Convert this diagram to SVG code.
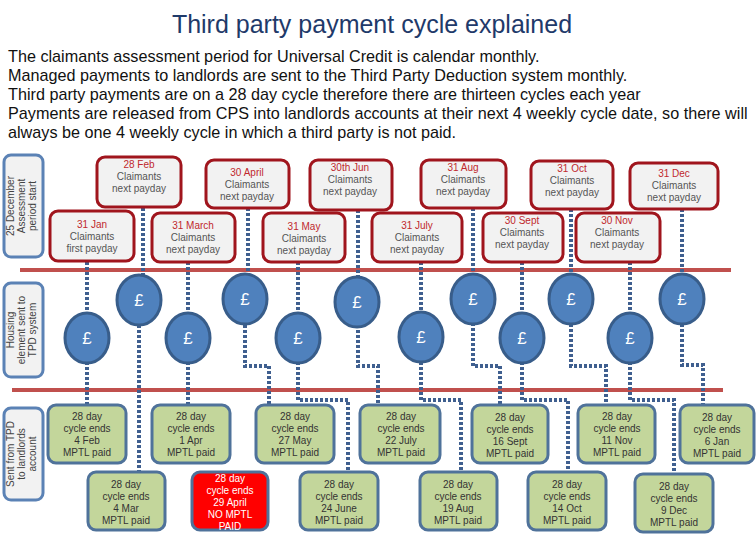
<svg xmlns="http://www.w3.org/2000/svg" width="756" height="540" viewBox="0 0 756 540">
<style>
text{font-family:"Liberation Sans",Arial,sans-serif}
.t{font-size:25px;fill:#1f3a6a;text-anchor:middle}
.p{font-size:16.2px;fill:#111}
.side{fill:#f2f2f2;stroke:#5b82b5;stroke-width:3}
.st{font-size:10px;fill:#444;text-anchor:middle}
.top{fill:#f2f2f2;stroke:#a0151d;stroke-width:3}
.d{font-size:10px;fill:#c0282d;text-anchor:middle}
.g{font-size:10px;fill:#555;text-anchor:middle}
.coin{fill:#4f81bd;stroke:#385d8a;stroke-width:3}
.ct{font-size:17px;fill:#fff;text-anchor:middle}
.bot{fill:#c3d69b;stroke:#4f729a;stroke-width:3}
.red{fill:#ff0000;stroke:#4f729a;stroke-width:3}
.bt{font-size:10px;fill:#333;text-anchor:middle}
.wt{font-size:10px;fill:#fff;text-anchor:middle}
.c{fill:none;stroke:#3f5f8f;stroke-width:4;stroke-dasharray:3 2}
.rl{stroke:#c0504d;stroke-width:4}
</style>
<text class="t" x="372" y="33">Third party payment cycle explained</text>
<text class="p" x="8" y="62">The claimants assessment period for Universal Credit is calendar monthly.</text>
<text class="p" x="8" y="81">Managed payments to landlords are sent to the Third Party Deduction system monthly.</text>
<text class="p" x="8" y="100">Third party payments are on a 28 day cycle therefore there are thirteen cycles each year</text>
<text class="p" x="8" y="119">Payments are released from CPS into landlords accounts at their next 4 weekly cycle date, so there will</text>
<text class="p" x="8" y="138">always be one 4 weekly cycle in which a third party is not paid.</text>

<g id="sides">
<rect class="side" x="4" y="155" width="39" height="102" rx="7"/>
<text class="st" transform="translate(23,206) rotate(-90)"><tspan x="0" y="-9">25 December</tspan><tspan x="0" y="2">Assessment</tspan><tspan x="0" y="13">period start</tspan></text>
<rect class="side" x="4" y="283" width="39" height="94" rx="7"/>
<text class="st" transform="translate(23,330) rotate(-90)"><tspan x="0" y="-9">Housing</tspan><tspan x="0" y="2">element sent to</tspan><tspan x="0" y="13">TPD system</tspan></text>
<rect class="side" x="4" y="408" width="39" height="92" rx="7"/>
<text class="st" transform="translate(23,454) rotate(-90)"><tspan x="0" y="-9">Sent from TPD</tspan><tspan x="0" y="2">to landlords</tspan><tspan x="0" y="13">account</tspan></text>
</g>

<line class="rl" x1="20" y1="270" x2="731" y2="270"/>
<line class="rl" x1="12" y1="390" x2="723" y2="390"/>

<g id="connectors">
<path class="c" d="M87 262V405"/>
<path class="c" d="M143 208V300M139 300V472"/>
<path class="c" d="M188 262V405"/>
<path class="c" d="M248 208V300M245 300V366H269V405"/>
<path class="c" d="M298 262V400H348V472"/>
<path class="c" d="M358 210V366H378V405"/>
<path class="c" d="M421 262V400H461V472"/>
<path class="c" d="M473 208V366H500V405"/>
<path class="c" d="M522 262V400H568V472"/>
<path class="c" d="M571 209V366H606V405"/>
<path class="c" d="M630 262V400H674V474"/>
<path class="c" d="M682 209V365H703V405"/>
</g>

<g id="n-28feb"><rect class="top" x="97" y="157" width="84" height="50" rx="8"/><text class="d" x="139" y="168">28 Feb</text><text class="g" x="139" y="180">Claimants</text><text class="g" x="139" y="192">next payday</text></g>
<g id="n-31jan"><rect class="top" x="50" y="211" width="84" height="50" rx="8"/><text class="d" x="92" y="228">31 Jan</text><text class="g" x="92" y="240">Claimants</text><text class="g" x="92" y="252">first payday</text></g>
<g id="n-30apr"><rect class="top" x="206" y="160" width="83" height="48" rx="8"/><text class="d" x="247" y="176">30 April</text><text class="g" x="247" y="188">Claimants</text><text class="g" x="247" y="200">next payday</text></g>
<g id="n-31mar"><rect class="top" x="152" y="213" width="83" height="49" rx="8"/><text class="d" x="193" y="229">31 March</text><text class="g" x="193" y="241">Claimants</text><text class="g" x="193" y="253">next payday</text></g>
<g id="n-30jun"><rect class="top" x="310" y="160" width="82" height="50" rx="8"/><text class="d" x="350" y="171">30th Jun</text><text class="g" x="350" y="183">Claimants</text><text class="g" x="350" y="195">next payday</text></g>
<g id="n-31may"><rect class="top" x="263" y="213" width="82" height="49" rx="8"/><text class="d" x="304" y="230">31 May</text><text class="g" x="304" y="242">Claimants</text><text class="g" x="304" y="254">next payday</text></g>
<g id="n-31jul"><rect class="top" x="372" y="213" width="90" height="49" rx="8"/><text class="d" x="417" y="229">31 July</text><text class="g" x="417" y="241">Claimants</text><text class="g" x="417" y="253">next payday</text></g>
<g id="n-31aug"><rect class="top" x="421" y="160" width="85" height="48" rx="8"/><text class="d" x="463" y="171">31 Aug</text><text class="g" x="463" y="183">Claimants</text><text class="g" x="463" y="195">next payday</text></g>
<g id="n-30sep"><rect class="top" x="483" y="213" width="80" height="49" rx="8"/><text class="d" x="522" y="224">30 Sept</text><text class="g" x="522" y="236">Claimants</text><text class="g" x="522" y="248">next payday</text></g>
<g id="n-31oct"><rect class="top" x="531" y="161" width="82" height="48" rx="8"/><text class="d" x="572" y="172">31 Oct</text><text class="g" x="572" y="184">Claimants</text><text class="g" x="572" y="196">next payday</text></g>
<g id="n-30nov"><rect class="top" x="576" y="213" width="84" height="49" rx="8"/><text class="d" x="617" y="224">30 Nov</text><text class="g" x="617" y="236">Claimants</text><text class="g" x="617" y="248">next payday</text></g>
<g id="n-31dec"><rect class="top" x="630" y="163" width="88" height="46" rx="8"/><text class="d" x="674" y="177">31 Dec</text><text class="g" x="674" y="189">Claimants</text><text class="g" x="674" y="201">next payday</text></g>

<g id="coins">
<g id="c1"><ellipse class="coin" cx="87" cy="338" rx="22" ry="25"/><text class="ct" x="87" y="344">£</text></g>
<g id="c2"><ellipse class="coin" cx="139" cy="300" rx="22" ry="25"/><text class="ct" x="139" y="306">£</text></g>
<g id="c3"><ellipse class="coin" cx="188" cy="338" rx="22" ry="25"/><text class="ct" x="188" y="344">£</text></g>
<g id="c4"><ellipse class="coin" cx="245" cy="299" rx="22" ry="25"/><text class="ct" x="245" y="305">£</text></g>
<g id="c5"><ellipse class="coin" cx="298" cy="338" rx="22" ry="25"/><text class="ct" x="298" y="344">£</text></g>
<g id="c6"><ellipse class="coin" cx="357" cy="302" rx="22" ry="25"/><text class="ct" x="357" y="308">£</text></g>
<g id="c7"><ellipse class="coin" cx="421" cy="337" rx="22" ry="25"/><text class="ct" x="421" y="343">£</text></g>
<g id="c8"><ellipse class="coin" cx="473" cy="299" rx="22" ry="25"/><text class="ct" x="473" y="305">£</text></g>
<g id="c9"><ellipse class="coin" cx="522" cy="338" rx="22" ry="25"/><text class="ct" x="522" y="344">£</text></g>
<g id="c10"><ellipse class="coin" cx="571" cy="299" rx="22" ry="25"/><text class="ct" x="571" y="305">£</text></g>
<g id="c11"><ellipse class="coin" cx="630" cy="338" rx="22" ry="25"/><text class="ct" x="630" y="344">£</text></g>
<g id="c12"><ellipse class="coin" cx="682" cy="299" rx="22" ry="25"/><text class="ct" x="682" y="305">£</text></g>
</g>

<g id="b-4feb"><rect class="bot" x="48" y="405" width="78" height="58" rx="8"/><text class="bt" x="87" y="420">28 day</text><text class="bt" x="87" y="432">cycle ends</text><text class="bt" x="87" y="444">4 Feb</text><text class="bt" x="87" y="456">MPTL paid</text></g>
<g id="b-4mar"><rect class="bot" x="88" y="472" width="77" height="58" rx="8"/><text class="bt" x="126" y="488">28 day</text><text class="bt" x="126" y="500">cycle ends</text><text class="bt" x="126" y="512">4 Mar</text><text class="bt" x="126" y="524">MPTL paid</text></g>
<g id="b-1apr"><rect class="bot" x="152" y="405" width="78" height="58" rx="8"/><text class="bt" x="191" y="420">28 day</text><text class="bt" x="191" y="432">cycle ends</text><text class="bt" x="191" y="444">1 Apr</text><text class="bt" x="191" y="456">MPTL paid</text></g>
<g id="b-29apr"><rect class="red" x="192" y="472" width="76" height="58" rx="8"/><text class="wt" x="230" y="482">28 day</text><text class="wt" x="230" y="494">cycle ends</text><text class="wt" x="230" y="506">29 April</text><text class="wt" x="230" y="518">NO MPTL</text><text class="wt" x="230" y="530">PAID</text></g>
<g id="b-27may"><rect class="bot" x="256" y="405" width="78" height="58" rx="8"/><text class="bt" x="295" y="420">28 day</text><text class="bt" x="295" y="432">cycle ends</text><text class="bt" x="295" y="444">27 May</text><text class="bt" x="295" y="456">MPTL paid</text></g>
<g id="b-24jun"><rect class="bot" x="300" y="472" width="78" height="58" rx="8"/><text class="bt" x="339" y="488">28 day</text><text class="bt" x="339" y="500">cycle ends</text><text class="bt" x="339" y="512">24 June</text><text class="bt" x="339" y="524">MPTL paid</text></g>
<g id="b-22jul"><rect class="bot" x="360" y="405" width="80" height="58" rx="8"/><text class="bt" x="401" y="420">28 day</text><text class="bt" x="401" y="432">cycle ends</text><text class="bt" x="401" y="444">22 July</text><text class="bt" x="401" y="456">MPTL paid</text></g>
<g id="b-19aug"><rect class="bot" x="420" y="472" width="77" height="58" rx="8"/><text class="bt" x="458" y="488">28 day</text><text class="bt" x="458" y="500">cycle ends</text><text class="bt" x="458" y="512">19 Aug</text><text class="bt" x="458" y="524">MPTL paid</text></g>
<g id="b-16sep"><rect class="bot" x="472" y="405" width="76" height="58" rx="8"/><text class="bt" x="510" y="421">28 day</text><text class="bt" x="510" y="433">cycle ends</text><text class="bt" x="510" y="445">16 Sept</text><text class="bt" x="510" y="457">MPTL paid</text></g>
<g id="b-14oct"><rect class="bot" x="528" y="472" width="78" height="58" rx="8"/><text class="bt" x="567" y="488">28 day</text><text class="bt" x="567" y="500">cycle ends</text><text class="bt" x="567" y="512">14 Oct</text><text class="bt" x="567" y="524">MPTL paid</text></g>
<g id="b-11nov"><rect class="bot" x="578" y="405" width="77" height="58" rx="8"/><text class="bt" x="617" y="420">28 day</text><text class="bt" x="617" y="432">cycle ends</text><text class="bt" x="617" y="444">11 Nov</text><text class="bt" x="617" y="456">MPTL paid</text></g>
<g id="b-9dec"><rect class="bot" x="635" y="474" width="78" height="58" rx="8"/><text class="bt" x="674" y="490">28 day</text><text class="bt" x="674" y="502">cycle ends</text><text class="bt" x="674" y="514">9 Dec</text><text class="bt" x="674" y="526">MPTL paid</text></g>
<g id="b-6jan"><rect class="bot" x="680" y="405" width="74" height="58" rx="8"/><text class="bt" x="717" y="421">28 day</text><text class="bt" x="717" y="433">cycle ends</text><text class="bt" x="717" y="445">6 Jan</text><text class="bt" x="717" y="457">MPTL paid</text></g>
</svg>
